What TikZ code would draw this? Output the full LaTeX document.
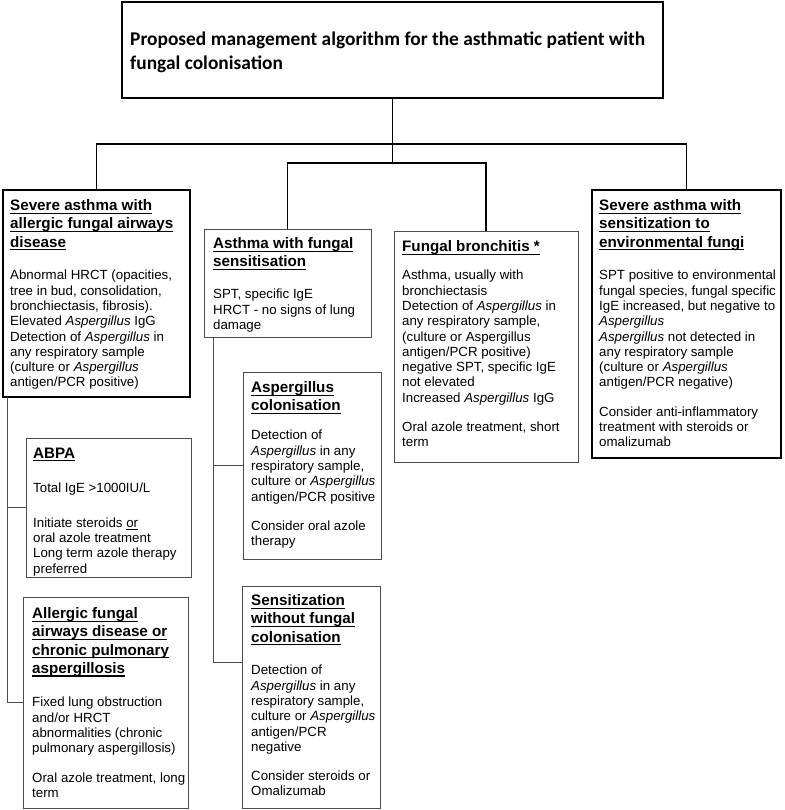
\documentclass[tikz,border=0pt]{standalone}
\usepackage{fontspec}
\setmainfont{Liberation Sans}
\newfontfamily\titlefont{Carlito}
\newcommand\ulx[1]{\setbox0\hbox{#1}\rlap{\rule[-3.2pt]{\wd0}{1.2pt}}\box0}
\newcommand\ulthin[1]{\setbox0\hbox{#1}\rlap{\rule[-2.6pt]{\wd0}{0.8pt}}\box0}
\begin{document}
\begin{tikzpicture}[x=1pt,y=-1pt,
  thickbox/.style={draw=black, line width=2.2pt, anchor=north west, inner sep=0pt, outer sep=0pt},
  thinbox/.style={draw=black!70, line width=0.9pt, anchor=north west, inner sep=0pt, outer sep=0pt},
  hdtxt/.style={anchor=north west, inner sep=0pt, align=left, font=\fontsize{15.2}{18.2}\selectfont\bfseries},
  bdtxt/.style={anchor=north west, inner sep=0pt, align=left, font=\fontsize{13.3}{15.3}\selectfont},
  ttltxt/.style={anchor=north west, inner sep=0pt, align=left, font=\fontsize{19.4}{24}\selectfont\titlefont\bfseries},
  conn/.style={draw=black, line width=1.3pt},
  conn2/.style={draw=black!70, line width=0.9pt}]
\useasboundingbox (0,0) rectangle (784,810);
\fill[white] (0,0) rectangle (784,810);

% title
\node[thickbox, minimum width=541pt, minimum height=96pt] (title) at (122,2) {};
\node[ttltxt] (ttitle) at ([shift={(8,30)}]title.north west)
  {Proposed management algorithm for the asthmatic patient with\\fungal colonisation};

% level 1 boxes
\node[thickbox, minimum width=187pt, minimum height=207pt] (b1) at (3,190) {};
\node[thinbox, minimum width=167pt, minimum height=108pt] (b2) at (204,229) {};
\node[thinbox, minimum width=184pt, minimum height=231pt] (b3) at (394,231) {};
\node[thickbox, minimum width=189pt, minimum height=268pt] (b4) at (592,190) {};
% level 2 boxes
\node[thinbox, minimum width=165pt, minimum height=139pt] (b5) at (26,438) {};
\node[thinbox, minimum width=165pt, minimum height=211pt] (b6) at (23,597) {};
\node[thinbox, minimum width=138pt, minimum height=187pt] (b7) at (243,372) {};
\node[thinbox, minimum width=138pt, minimum height=222pt] (b8) at (242,586) {};

% texts
\node[hdtxt] (h1) at ([shift={(7,9.5)}]b1.north west)
  {\ulx{Severe asthma with}\\\ulx{allergic fungal airways}\\\ulx{disease}};
\node[bdtxt] (d1) at ([shift={(7,80)}]b1.north west)
  {Abnormal HRCT (opacities,\\tree in bud, consolidation,\\bronchiectasis, fibrosis).\\
   Elevated \textit{Aspergillus} IgG\\Detection of \textit{Aspergillus} in\\any respiratory sample\\
   (culture or \textit{Aspergillus}\\antigen/PCR positive)};

\node[hdtxt] (h2) at ([shift={(9,8.5)}]b2.north west)
  {\ulx{Asthma with fungal}\\\ulx{sensitisation}};
\node[bdtxt] (d2) at ([shift={(9,60)}]b2.north west)
  {SPT, specific IgE\\HRCT - no signs of lung\\damage};

\node[hdtxt] (h3) at ([shift={(8,9.5)}]b3.north west)
  {\ulx{Fungal bronchitis *}};
\node[bdtxt] (d3) at ([shift={(8,39)}]b3.north west)
  {Asthma, usually with\\bronchiectasis\\Detection of \textit{Aspergillus} in\\any respiratory sample,\\
   (culture or Aspergillus\\antigen/PCR positive)\\negative SPT, specific IgE\\not elevated\\
   Increased \textit{Aspergillus} IgG\\[14pt]Oral azole treatment, short\\term};

\node[hdtxt] (h4) at ([shift={(7,9.5)}]b4.north west)
  {\ulx{Severe asthma with}\\\ulx{sensitization to}\\\ulx{environmental fungi}};
\node[bdtxt] (d4) at ([shift={(7,80)}]b4.north west)
  {SPT positive to environmental\\fungal species, fungal specific\\IgE increased, but negative to\\
   \textit{Aspergillus}\\\textit{Aspergillus} not detected in\\any respiratory sample\\
   (culture or \textit{Aspergillus}\\antigen/PCR negative)\\[14pt]
   Consider anti-inflammatory\\treatment with steroids or\\omalizumab};

\node[hdtxt] (h5) at ([shift={(7,9.5)}]b5.north west) {\ulx{ABPA}};
\node[bdtxt] (d5) at ([shift={(7,45)}]b5.north west)
  {Total IgE >1000IU/L\\[19pt]Initiate steroids \ulthin{or}\\oral azole treatment\\
   Long term azole therapy\\preferred};

\node[hdtxt] (h6) at ([shift={(9,10.5)}]b6.north west)
  {\ulx{Allergic fungal}\\\ulx{airways disease or}\\\ulx{chronic pulmonary}\\\ulx{aspergillosis}};
\node[bdtxt] (d6) at ([shift={(9,100)}]b6.north west)
  {Fixed lung obstruction\\and/or HRCT\\abnormalities (chronic\\pulmonary aspergillosis)\\[14pt]
   Oral azole treatment, long\\term};

\node[hdtxt] (h7) at ([shift={(8,9.5)}]b7.north west)
  {\ulx{Aspergillus}\\\ulx{colonisation}};
\node[bdtxt] (d7) at ([shift={(8,58)}]b7.north west)
  {Detection of\\\textit{Aspergillus} in any\\respiratory sample,\\culture or \textit{Aspergillus}\\
   antigen/PCR positive\\[14pt]Consider oral azole\\therapy};

\node[hdtxt] (h8) at ([shift={(9,8.5)}]b8.north west)
  {\ulx{Sensitization}\\\ulx{without fungal}\\\ulx{colonisation}};
\node[bdtxt] (d8) at ([shift={(9,79)}]b8.north west)
  {Detection of\\\textit{Aspergillus} in any\\respiratory sample,\\culture or \textit{Aspergillus}\\
   antigen/PCR\\negative\\[14pt]Consider steroids or\\Omalizumab};

% connectors
\coordinate (bus1) at (0,144);
\coordinate (bus2) at (0,163);
\draw[conn] (title.south) -- (title.south |- bus2);
\draw[conn] (b1.north) -- (b1.north |- bus1) -| (b4.north);
\draw[conn] (b2.north) -- (b2.north |- bus2) -| (b3.north);

\coordinate (s1) at ([xshift=4pt]b1.south west);
\draw[conn2] (s1) -- (s1 |- b6.west) -- (b6.west);
\draw[conn2] (s1 |- b5.west) -- (b5.west);
\coordinate (s2) at ([xshift=9pt]b2.south west);
\coordinate (e8) at ([yshift=-76pt]b8.north west);
\draw[conn2] (s2) -- (s2 |- e8) -- (e8);
\draw[conn2] (s2 |- b7.west) -- (b7.west);
\end{tikzpicture}
\end{document}
